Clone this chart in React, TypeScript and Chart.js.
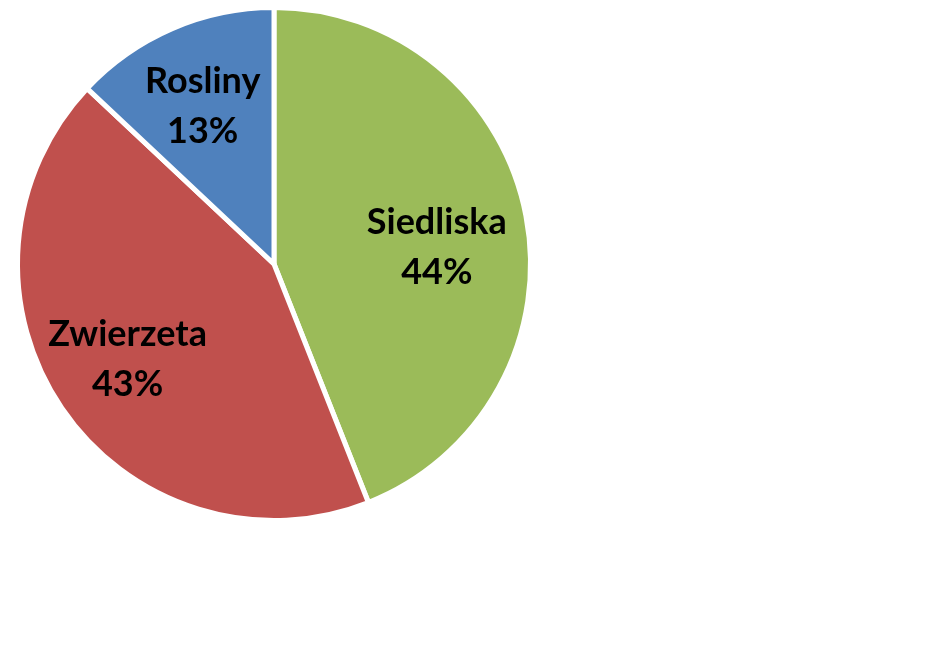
import React, { useEffect, useRef } from "react";
import { Chart, registerables } from "chart.js";

Chart.register(...registerables);

const categories = ["Siedliska", "Zwierzeta", "Rosliny"];
const values = [44, 43, 13];
const percentLabels = ["44%", "43%", "13%"];
const colors = ["#9BBB59", "#C0504D", "#4F81BD"];
const labelRadiusFactors = [0.65, 0.69, 0.68];
const labelNudgeY = [15, -4, 2];
const labelNudgeX = [-1, 0, -2];

const labelPlugin = {
  id: "sliceLabels",
  afterDatasetsDraw(chart: any) {
    const ctx = chart.ctx;
    const meta = chart.getDatasetMeta(0);
    ctx.save();
    ctx.fillStyle = "#000000";
    ctx.font = "bold 36px Lato, 'DejaVu Sans', sans-serif";
    ctx.textAlign = "center";
    ctx.textBaseline = "middle";
    meta.data.forEach((arc: any, i: number) => {
      const { x, y, startAngle, endAngle, outerRadius } = arc.getProps(
        ["x", "y", "startAngle", "endAngle", "outerRadius"],
        true
      );
      const mid = (startAngle + endAngle) / 2;
      const r = outerRadius * labelRadiusFactors[i];
      const cx = x + Math.cos(mid) * r + labelNudgeX[i];
      const cy = y + Math.sin(mid) * r + labelNudgeY[i];
      ctx.fillText(categories[i], cx, cy - 25);
      ctx.fillText(percentLabels[i], cx, cy + 25);
    });
    ctx.restore();
  },
};

export default function App() {
  const canvasRef = useRef<HTMLCanvasElement | null>(null);

  useEffect(() => {
    if (!canvasRef.current) return;
    const chart = new Chart(canvasRef.current, {
      type: "pie",
      data: {
        labels: categories,
        datasets: [
          {
            data: values,
            backgroundColor: colors,
            borderColor: "#ffffff",
            borderWidth: 5,
          },
        ],
      },
      options: {
        responsive: false,
        animation: false,
        layout: { padding: { left: 15, top: 5, right: 405, bottom: 143 } },
        plugins: {
          legend: { display: false },
          tooltip: { enabled: false },
        },
      },
      plugins: [labelPlugin],
    });
    return () => chart.destroy();
  }, []);

  return (
    <div style={{ position: "absolute", left: 0, top: 0, width: 938, height: 666, background: "#ffffff" }}>
      <canvas ref={canvasRef} width={938} height={666} />
    </div>
  );
}
